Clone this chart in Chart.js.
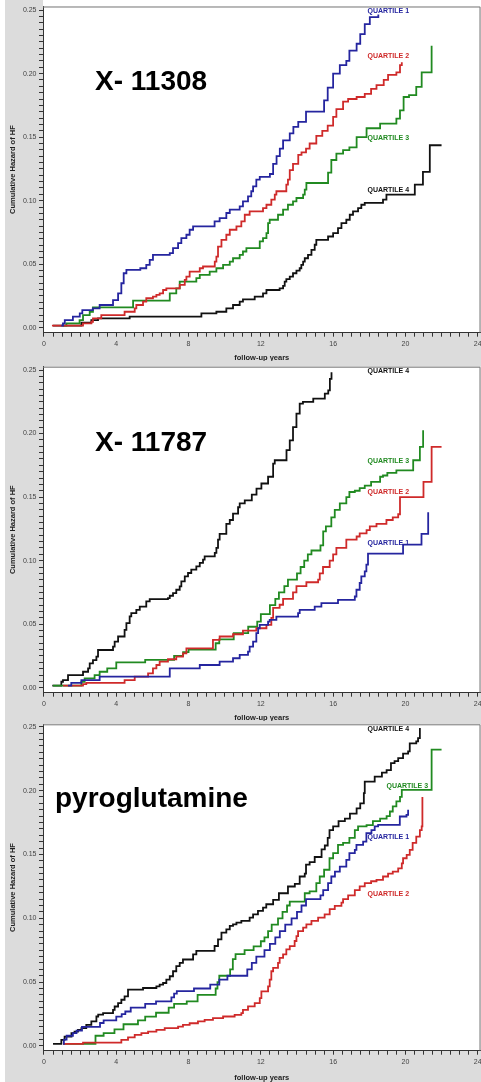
<!DOCTYPE html>
<html>
<head>
<meta charset="utf-8">
<script src="https://cdn.jsdelivr.net/npm/chart.js@4.4.1/dist/chart.umd.min.js"></script>
<style>
  html, body { margin: 0; padding: 0; background: #fff; }
  body { width: 481px; height: 1082px; position: relative; overflow: hidden; }
  .panel { position: absolute; left: 0; width: 481px; }
  .panel canvas { display: block; }
</style>
</head>
<body>
<div class="panel" style="top:0;height:361px"><canvas id="chart1" width="481" height="361"></canvas></div>
<div class="panel" style="top:361px;height:360px"><canvas id="chart2" width="481" height="360"></canvas></div>
<div class="panel" style="top:721px;height:361px"><canvas id="chart3" width="481" height="361"></canvas></div>
<script>
// tick labels
const yTickValues = [0, 0.05, 0.10, 0.15, 0.20, 0.25];
const yTickLabels = ["0.00", "0.05", "0.10", "0.15", "0.20", "0.25"];
const xTickValues = [0, 4, 8, 12, 16, 20, 24];
const xTickLabels = ["0", "4", "8", "12", "16", "20", "24"];
const quartileNames = ["QUARTILE 1", "QUARTILE 2", "QUARTILE 3", "QUARTILE 4"];
const panelTitles = ["X- 11308", "X- 11787", "pyroglutamine"];

// [follow-up years, cumulative hazard] for each step
// panel 1: X- 11308
const p1q1 = [[0.96,0.0016],[1.05,0.0034],[1.15,0.006],[1.6,0.0087],[1.98,0.0113],[2.12,0.0139],[2.7,0.0153],[3.08,0.0179],[3.82,0.0218],[4.1,0.0271],[4.28,0.035],[4.41,0.0429],[4.56,0.0455],[5.33,0.0468],[5.66,0.0495],[5.85,0.0534],[6.03,0.0574],[6.96,0.0587],[7.14,0.0626],[7.42,0.0666],[7.6,0.0705],[7.88,0.0732],[8.06,0.0771],[8.25,0.0797],[9.44,0.0837],[9.72,0.0863],[10.09,0.0903],[10.28,0.0929],[10.83,0.0955],[11.01,0.0995],[11.29,0.1034],[11.47,0.1074],[11.57,0.1113],[11.75,0.1166],[11.94,0.1187],[12.5,0.121],[12.68,0.129],[12.87,0.135],[13.05,0.141],[13.23,0.1475],[13.6,0.153],[13.8,0.158],[14.07,0.162],[14.5,0.17],[15.5,0.179],[15.7,0.189],[16.0,0.2],[16.37,0.2066],[16.73,0.21],[16.9,0.218],[17.3,0.2235],[17.5,0.231],[17.75,0.239],[18.03,0.2445],[18.5,0.2466]];
const p1q2 = [[0.44,0.0016],[2.16,0.0034],[2.62,0.0047],[2.71,0.0074],[3.17,0.01],[4.46,0.0126],[5.02,0.0153],[5.11,0.0179],[5.48,0.0205],[5.66,0.0232],[6.03,0.0245],[6.22,0.0258],[6.4,0.0271],[6.59,0.0297],[6.77,0.031],[7.51,0.0337],[7.79,0.0376],[7.88,0.0403],[8.06,0.0442],[8.62,0.0468],[8.8,0.0482],[9.45,0.0521],[9.54,0.056],[9.63,0.0639],[9.82,0.0692],[10.09,0.0732],[10.28,0.0771],[10.65,0.0797],[10.92,0.0837],[11.11,0.0889],[11.38,0.0916],[12.12,0.0942],[12.31,0.0968],[12.58,0.1008],[12.77,0.1047],[12.86,0.1074],[13.41,0.1126],[13.5,0.1166],[13.6,0.124],[13.78,0.129],[14.07,0.136],[14.25,0.138],[14.5,0.141],[14.7,0.145],[15.07,0.151],[15.4,0.155],[15.7,0.159],[16.0,0.166],[16.18,0.172],[16.55,0.178],[16.83,0.18],[17.3,0.1816],[17.75,0.184],[18.1,0.188],[18.4,0.191],[18.8,0.195],[19.04,0.199],[19.5,0.201],[19.7,0.2066],[19.8,0.209]];
const p1q3 = [[1.05,0.0016],[1.24,0.0034],[1.97,0.006],[2.16,0.01],[2.53,0.0126],[2.71,0.016],[4.93,0.0213],[6.96,0.0271],[7.32,0.031],[7.51,0.0363],[8.43,0.039],[8.62,0.0416],[9.17,0.0442],[9.54,0.0468],[9.91,0.0495],[10.28,0.0521],[10.46,0.0547],[10.83,0.0574],[11.01,0.06],[11.2,0.0626],[11.94,0.0679],[12.12,0.0705],[12.31,0.0745],[12.4,0.0824],[12.49,0.085],[12.95,0.0889],[13.23,0.0929],[13.5,0.0968],[13.78,0.0995],[13.97,0.1021],[14.34,0.1047],[14.43,0.1087],[14.52,0.1139],[15.72,0.122],[15.9,0.132],[16.18,0.137],[16.55,0.1397],[16.9,0.142],[17.3,0.15],[17.85,0.157],[18.6,0.1607],[19.5,0.1646],[19.7,0.171],[19.9,0.1816],[20.2,0.183],[20.6,0.1895],[20.9,0.201],[21.45,0.222]];
const p1q4 = [[0.5,0.0016],[2.07,0.004],[2.62,0.006],[2.99,0.0074],[4.74,0.0087],[8.71,0.0113],[9.54,0.0126],[10.09,0.0153],[10.46,0.0179],[10.83,0.0205],[11.01,0.0224],[11.66,0.0245],[12.12,0.0271],[12.31,0.0297],[13.04,0.031],[13.23,0.0329],[13.32,0.0363],[13.41,0.0382],[13.6,0.0403],[13.78,0.0429],[13.97,0.045],[14.15,0.0468],[14.24,0.0495],[14.34,0.0521],[14.43,0.0547],[14.61,0.0574],[14.8,0.0613],[14.98,0.0653],[15.07,0.0692],[15.72,0.0718],[16.0,0.0745],[16.27,0.0784],[16.46,0.0824],[16.73,0.085],[16.92,0.0889],[17.1,0.0916],[17.38,0.0942],[17.56,0.0968],[17.75,0.0982],[18.76,0.1008],[18.95,0.1047],[20.52,0.1126],[20.97,0.1227],[21.35,0.1436],[22.0,0.1436]];

// panel 2: X- 11787
const p2q1 = [[1.33,0.0016],[1.51,0.0039],[2.07,0.006],[3.08,0.0087],[6.96,0.0153],[8.62,0.0179],[9.72,0.0205],[10.46,0.0232],[10.83,0.0258],[11.29,0.0284],[11.38,0.0324],[11.57,0.0363],[11.75,0.0429],[11.85,0.0468],[11.94,0.0495],[12.4,0.0521],[12.49,0.0534],[12.86,0.056],[14.06,0.0587],[14.15,0.0613],[14.98,0.0639],[15.35,0.0666],[16.27,0.0692],[17.2,0.0718],[17.29,0.0771],[17.47,0.0824],[17.56,0.0876],[17.75,0.0916],[17.84,0.0968],[17.93,0.1055],[19.87,0.1126],[20.89,0.121],[21.26,0.138]];
const p2q2 = [[1.05,0.0016],[2.16,0.0029],[2.34,0.0039],[4.46,0.006],[5.02,0.0087],[5.76,0.0113],[6.03,0.0153],[6.22,0.0179],[6.4,0.0205],[6.86,0.0224],[7.32,0.0245],[7.69,0.0271],[7.88,0.031],[9.35,0.0376],[9.72,0.0403],[10.46,0.0421],[11.01,0.045],[11.75,0.0468],[12.31,0.0495],[12.58,0.055],[12.68,0.0629],[13.04,0.0653],[13.23,0.07],[13.78,0.075],[13.97,0.08],[14.52,0.083],[15.17,0.085],[15.26,0.09],[15.44,0.095],[15.81,0.1],[16.0,0.105],[16.18,0.11],[16.73,0.1166],[17.3,0.119],[17.47,0.1215],[17.85,0.124],[18.03,0.127],[18.4,0.129],[18.95,0.132],[19.3,0.134],[19.6,0.1365],[19.7,0.15],[21.0,0.162],[21.45,0.1895],[22.0,0.1895]];
const p2q3 = [[0.5,0.0016],[2.07,0.0047],[2.25,0.0074],[2.8,0.01],[3.08,0.0126],[3.5,0.0153],[4.0,0.02],[5.6,0.022],[7.2,0.025],[7.7,0.028],[8.0,0.03],[9.5,0.035],[9.7,0.038],[10.5,0.043],[11.3,0.048],[11.8,0.052],[12.0,0.058],[12.5,0.065],[12.8,0.07],[13.0,0.075],[13.3,0.08],[13.5,0.085],[14.0,0.09],[14.2,0.095],[14.4,0.1],[14.6,0.105],[14.8,0.108],[15.3,0.112],[15.45,0.123],[15.6,0.127],[15.9,0.134],[16.09,0.14],[16.37,0.145],[16.73,0.15],[16.9,0.154],[17.2,0.155],[17.47,0.157],[17.75,0.159],[18.1,0.162],[18.6,0.166],[18.76,0.167],[19.0,0.169],[19.5,0.171],[20.43,0.179],[20.8,0.1895],[20.98,0.2026]];
const p2q4 = [[0.46,0.0016],[0.96,0.0047],[1.05,0.006],[1.33,0.01],[2.16,0.0126],[2.44,0.0153],[2.53,0.0192],[2.71,0.0218],[2.9,0.0245],[2.99,0.0297],[3.82,0.0324],[3.91,0.0363],[4.1,0.0403],[4.46,0.0455],[4.56,0.0508],[4.74,0.0561],[4.83,0.0587],[5.11,0.0613],[5.3,0.0639],[5.66,0.0679],[5.85,0.0697],[6.86,0.0705],[6.96,0.0724],[7.14,0.0745],[7.32,0.0771],[7.51,0.0797],[7.6,0.0837],[7.79,0.0876],[7.97,0.0903],[8.15,0.0929],[8.43,0.0955],[8.62,0.0982],[8.8,0.1008],[8.89,0.1034],[9.45,0.1061],[9.54,0.11],[9.63,0.1166],[9.72,0.121],[10.09,0.129],[10.28,0.132],[10.46,0.137],[10.74,0.142],[10.83,0.145],[11.11,0.1475],[11.5,0.152],[11.76,0.1567],[12.03,0.1607],[12.4,0.166],[12.68,0.1764],[12.77,0.179],[13.42,0.187],[13.6,0.1947],[13.78,0.205],[13.97,0.2157],[14.15,0.2235],[14.33,0.2249],[14.9,0.2275],[15.54,0.2314],[15.73,0.234],[15.82,0.243],[15.91,0.2482]];

// panel 3: pyroglutamine
const p3q1 = [[1.05,0.0016],[1.1,0.005],[1.25,0.008],[1.6,0.01],[1.8,0.012],[2.1,0.015],[3.1,0.018],[3.3,0.02],[4.0,0.023],[4.3,0.025],[4.5,0.027],[4.8,0.03],[5.6,0.033],[6.2,0.035],[7.05,0.038],[7.2,0.041],[7.35,0.043],[8.3,0.045],[9.2,0.048],[9.7,0.052],[10.15,0.055],[11.25,0.06],[11.5,0.065],[11.75,0.07],[12.2,0.075],[12.5,0.08],[12.8,0.085],[13.05,0.09],[13.35,0.095],[13.7,0.1],[14.0,0.105],[14.25,0.11],[14.5,0.115],[15.3,0.118],[15.45,0.122],[15.72,0.1275],[15.9,0.1327],[16.1,0.1366],[16.37,0.1405],[16.73,0.1458],[16.9,0.151],[17.2,0.1536],[17.29,0.1575],[17.66,0.16],[17.84,0.1667],[18.12,0.169],[18.3,0.172],[18.49,0.1732],[19.69,0.1797],[20.06,0.181],[20.15,0.185]];
const p3q2 = [[1.05,0.0016],[2.16,0.0026],[4.28,0.0047],[4.65,0.0068],[5.02,0.0087],[5.39,0.01],[5.76,0.0113],[6.22,0.0126],[6.68,0.0139],[7.42,0.0152],[7.69,0.0165],[8.06,0.0178],[8.52,0.0192],[8.89,0.0205],[9.35,0.0218],[9.91,0.0231],[10.55,0.0244],[10.92,0.0257],[11.01,0.0283],[11.29,0.031],[11.66,0.0336],[11.94,0.0375],[12.03,0.0428],[12.4,0.0467],[12.49,0.052],[12.58,0.0585],[12.68,0.0612],[12.95,0.0651],[13.04,0.069],[13.23,0.0717],[13.41,0.0756],[13.6,0.0782],[13.87,0.0822],[13.97,0.0861],[14.06,0.09],[14.34,0.0927],[14.52,0.0953],[14.8,0.0979],[15.17,0.1005],[15.53,0.1031],[15.81,0.1071],[16.09,0.1097],[16.46,0.1123],[16.55,0.115],[16.83,0.118],[17.2,0.122],[17.47,0.125],[17.75,0.1275],[18.1,0.129],[18.4,0.13],[18.76,0.1327],[19.04,0.135],[19.3,0.1366],[19.6,0.139],[19.8,0.143],[19.87,0.147],[20.07,0.1497],[20.24,0.1536],[20.4,0.159],[20.6,0.164],[20.8,0.169],[20.9,0.172],[20.94,0.195]];
const p3q3 = [[1.1,0.0016],[2.85,0.008],[3.3,0.01],[3.9,0.013],[4.4,0.017],[5.2,0.02],[5.6,0.023],[6.2,0.026],[6.9,0.03],[7.2,0.033],[7.9,0.035],[8.5,0.04],[9.5,0.045],[9.6,0.05],[9.7,0.055],[10.3,0.06],[10.45,0.068],[10.6,0.072],[11.1,0.075],[11.6,0.078],[12.0,0.082],[12.2,0.085],[12.4,0.09],[12.6,0.095],[12.95,0.1],[13.2,0.105],[13.45,0.11],[13.6,0.113],[14.43,0.1196],[14.7,0.121],[15.07,0.1275],[15.26,0.1327],[15.5,0.138],[15.8,0.147],[16.0,0.151],[16.27,0.1575],[16.55,0.159],[16.9,0.163],[17.2,0.169],[17.38,0.172],[17.85,0.173],[18.2,0.176],[18.6,0.178],[18.96,0.18],[19.14,0.1836],[19.3,0.1876],[19.5,0.1915],[19.7,0.195],[19.8,0.2006],[21.45,0.232],[22.0,0.232]];
const p3q4 = [[0.5,0.0016],[0.96,0.0047],[1.14,0.0073],[1.52,0.01],[1.69,0.0113],[1.88,0.0126],[2.07,0.0139],[2.34,0.0165],[2.62,0.0192],[2.9,0.0231],[3.0,0.0245],[3.27,0.0257],[3.82,0.0283],[3.91,0.0309],[4.1,0.0336],[4.28,0.0362],[4.46,0.0388],[4.65,0.0441],[5.48,0.0454],[6.22,0.0467],[6.4,0.048],[6.59,0.0493],[6.77,0.0519],[6.96,0.0546],[7.14,0.0585],[7.32,0.0625],[7.51,0.0651],[7.69,0.0677],[8.25,0.0717],[8.43,0.0745],[9.44,0.0783],[9.63,0.0835],[9.82,0.0887],[10.09,0.0913],[10.28,0.094],[10.46,0.0953],[10.65,0.0966],[10.92,0.0979],[11.38,0.1005],[11.57,0.1031],[11.84,0.1058],[12.12,0.1084],[12.3,0.111],[12.68,0.1144],[13.0,0.1196],[13.5,0.1249],[13.88,0.127],[14.15,0.1327],[14.43,0.135],[14.5,0.142],[14.7,0.144],[14.98,0.148],[15.36,0.154],[15.54,0.157],[15.7,0.163],[15.8,0.169],[16.0,0.172],[16.3,0.176],[16.65,0.178],[16.93,0.182],[17.3,0.186],[17.5,0.19],[17.7,0.198],[17.75,0.207],[18.3,0.211],[18.7,0.214],[18.96,0.216],[19.2,0.2215],[19.4,0.223],[19.6,0.2254],[19.87,0.229],[20.15,0.2307],[20.24,0.237],[20.6,0.2385],[20.7,0.241],[20.8,0.249]];

const colors = ["#25259f", "#cf2a2a", "#218a21", "#111111"];
const FONT = '"Liberation Sans", Arial, sans-serif';

// layout of each panel (pixels inside its canvas) and where the quartile names sit
const panels = [
  {
    canvas: "chart1", series: [p1q1, p1q2, p1q3, p1q4],
    padTop: 6.5, axisY: 332.7, titlePad: 0, yMin: -0.0039, yMax: 0.2528, whiteTop: true,
    bigX: 95, bigY: 90,
    labelPos: [[17.9, 0.249], [17.9, 0.2136], [17.9, 0.149], [17.9, 0.108]]
  },
  {
    canvas: "chart2", series: [p2q1, p2q2, p2q3, p2q4],
    padTop: 5.7, axisY: 331.7, titlePad: 0, yMin: -0.0039, yMax: 0.2526, whiteTop: false,
    bigX: 95, bigY: 89.7,
    labelPos: [[17.9, 0.1135], [17.9, 0.1536], [17.9, 0.1785], [17.9, 0.249]]
  },
  {
    canvas: "chart3", series: [p3q1, p3q2, p3q3, p3q4],
    padTop: 3.3, axisY: 329.7, titlePad: 1.3, yMin: -0.0037, yMax: 0.2519, whiteTop: false,
    bigX: 55, bigY: 86.3,
    labelPos: [[17.9, 0.1634], [17.9, 0.1188], [18.95, 0.2038], [17.9, 0.248]]
  }
];

const panelDecor = {
  id: "panelDecor",
  beforeDraw(chart) {
    const { ctx, chartArea: a, width, height } = chart;
    const cfg = chart.options.plugins.panelDecor;
    ctx.save();
    ctx.fillStyle = "#dcdcdc";
    ctx.fillRect(5, 0, width - 5, height);
    if (cfg.whiteTop) {
      ctx.fillStyle = "#fff";
      ctx.fillRect(a.left, 0, width - a.left, a.top);
    }
    ctx.fillStyle = "#fff";
    ctx.fillRect(a.left, a.top, a.right - a.left, a.bottom - a.top);
    ctx.restore();
  },
  afterDatasetsDraw(chart) {
    const { ctx, chartArea: a, scales } = chart;
    const cfg = chart.options.plugins.panelDecor;
    ctx.save();
    // frame top and right
    ctx.strokeStyle = "#777";
    ctx.lineWidth = 1;
    ctx.beginPath();
    ctx.moveTo(a.left, a.top + 0.5);
    ctx.lineTo(a.right - 0.5, a.top + 0.5);
    ctx.lineTo(a.right - 0.5, a.bottom);
    ctx.stroke();

    // big marker name
    ctx.fillStyle = "#000";
    ctx.font = "bold 28px " + FONT;
    ctx.textBaseline = "alphabetic";
    ctx.textAlign = "left";
    ctx.fillText(cfg.title, cfg.bigX, cfg.bigY);

    // quartile names
    ctx.font = "bold 7px " + FONT;
    ctx.textBaseline = "middle";
    cfg.labelPos.forEach((p, i) => {
      ctx.fillStyle = colors[i];
      ctx.fillText(quartileNames[i], scales.x.getPixelForValue(p[0]), scales.y.getPixelForValue(p[1]));
    });
    ctx.restore();
  }
};

function labelFor(values, labels, v) {
  const idx = values.findIndex(t => Math.abs(t - v) < 1e-9);
  return idx >= 0 ? labels[idx] : "";
}

panels.forEach((p, n) => {
  const canvas = document.getElementById(p.canvas);
  const H = canvas.height;

  new Chart(canvas, {
    type: "line",
    data: {
      datasets: p.series.map((s, i) => ({
        label: quartileNames[i],
        data: s.map(d => ({ x: d[0], y: d[1] })),
        borderColor: colors[i],
        borderWidth: 1.8,
        pointRadius: 0,
        stepped: true,
        fill: false
      }))
    },
    options: {
      responsive: false,
      animation: false,
      events: [],
      layout: { padding: { left: 5, top: p.padTop, right: 0.5, bottom: 0 } },
      plugins: {
        legend: { display: false },
        tooltip: { enabled: false },
        panelDecor: { title: panelTitles[n], bigX: p.bigX, bigY: p.bigY, labelPos: p.labelPos, whiteTop: p.whiteTop }
      },
      scales: {
        x: {
          type: "linear",
          min: -0.055,
          max: 24.155,
          afterBuildTicks(scale) {
            const t = [];
            for (let i = 0; i <= 48; i++) t.push({ value: i / 2 });
            scale.ticks = t;
          },
          afterFit(scale) {
            scale.height = H - p.axisY;
            scale.paddingLeft = 0;
            scale.paddingRight = 0;
          },
          ticks: {
            autoSkip: false,
            maxRotation: 0,
            minRotation: 0,
            padding: 3,
            color: "#444",
            font: { family: FONT, size: 7 },
            callback: v => labelFor(xTickValues, xTickLabels, v)
          },
          grid: { drawOnChartArea: false, drawTicks: true, tickLength: 4, tickColor: "#333" },
          border: { display: true, color: "#333", width: 1 },
          title: {
            display: true,
            text: "follow-up years",
            color: "#222",
            font: { family: FONT, size: 7.5, weight: "bold", lineHeight: 0.8 },
            padding: { top: 0, bottom: p.titlePad }
          }
        },
        y: {
          type: "linear",
          min: p.yMin,
          max: p.yMax,
          afterBuildTicks(scale) {
            const t = [];
            for (let i = 0; i <= 50; i++) t.push({ value: Math.round(i * 5) / 1000 });
            scale.ticks = t;
          },
          afterFit(scale) {
            scale.width = 38;
            scale.paddingTop = 0;
            scale.paddingBottom = 0;
          },
          ticks: {
            autoSkip: false,
            padding: 2.5,
            color: "#444",
            font: { family: FONT, size: 7 },
            callback: v => labelFor(yTickValues, yTickLabels, v)
          },
          grid: { drawOnChartArea: false, drawTicks: true, tickLength: 4, tickColor: "#333" },
          border: { display: true, color: "#333", width: 1 },
          title: {
            display: true,
            text: "Cumulative Hazard of HF",
            color: "#222",
            font: { family: FONT, size: 7.5, weight: "bold" },
            padding: { top: 3.5, bottom: 0 }
          }
        }
      }
    },
    plugins: [panelDecor]
  });
});
</script>
</body>
</html>
